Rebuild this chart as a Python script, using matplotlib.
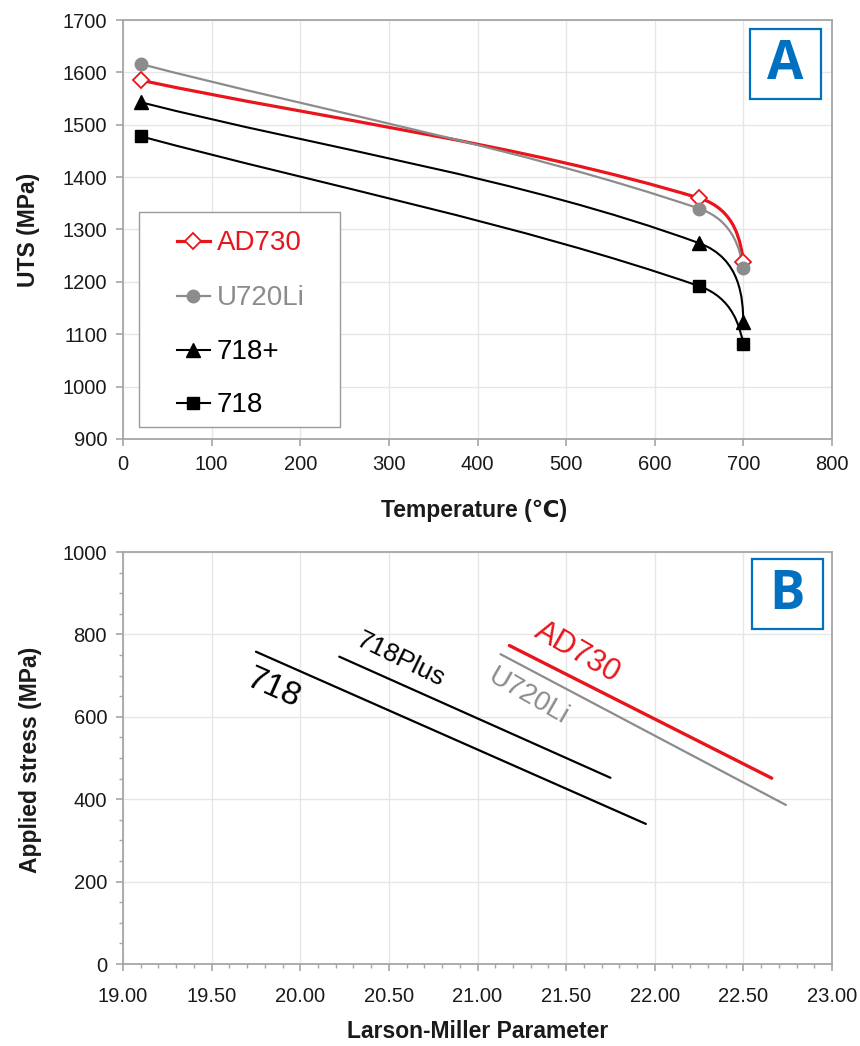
import matplotlib
matplotlib.use('Agg')
import matplotlib.pyplot as plt
import numpy as np
from matplotlib.path import Path
from matplotlib.patches import PathPatch, Rectangle
from matplotlib.lines import Line2D
from matplotlib.ticker import MultipleLocator, FormatStrFormatter

plt.rcParams['font.family'] = ['Liberation Sans', 'DejaVu Sans']

# ---------------- Panel A data ----------------
temps = [20, 650, 700]
uts_ad730 = [1585, 1360, 1238]
uts_u720li = [1616, 1340, 1227]
uts_718plus = [1543, 1274, 1124]
uts_718 = [1478, 1192, 1081]
series_names_a = ['AD730', 'U720Li', '718+', '718']

# ---------------- Panel B data ----------------
lmp_ad730 = [21.18, 22.66]
stress_ad730 = [773, 451]
lmp_u720li = [21.13, 22.74]
stress_u720li = [752, 386]
lmp_718plus = [20.22, 21.75]
stress_718plus = [746, 452]
lmp_718 = [19.75, 21.95]
stress_718 = [758, 340]

RED = '#e8161c'
GRAY = '#8c8c8c'
BLACK = '#000000'
BLUE = '#0070C0'
SPINE = '#a6a6a6'
GRID = '#e6e6e6'
TXT = '#1a1a1a'

fig = plt.figure(figsize=(8.6, 10.46), dpi=100)
W, H = 860, 1046


def add_axes_px(left, top, right, bottom):
    return fig.add_axes([left / W, 1 - bottom / H, (right - left) / W, (bottom - top) / H])


def style_axes(ax, xpad, ypad):
    for s in ax.spines.values():
        s.set_color(SPINE)
        s.set_linewidth(1.3)
    ax.grid(True, which='major', color=GRID, linewidth=1.0)
    ax.set_axisbelow(True)
    ax.tick_params(which='major', direction='out', length=5, width=1.2, color=SPINE,
                   labelsize=14.5, labelcolor=TXT)
    ax.tick_params(which='minor', direction='out', length=3, width=1.0, color=SPINE)
    ax.tick_params(axis='x', which='major', pad=xpad)
    ax.tick_params(axis='y', which='major', pad=ypad)


def smooth_line(ax, xs, ys, **kw):
    pts = ax.transData.transform(np.column_stack([xs, ys]))
    P0, P1, P2 = pts
    d1 = P2 - P0
    d1 = d1 / np.linalg.norm(d1)
    L01 = np.linalg.norm(P1 - P0)
    L12 = np.linalg.norm(P2 - P1)
    c1 = P0 + (P1 - P0) / 3.0
    c2 = P1 - d1 * L01 / 3.0
    c3 = P1 + d1 * L12 * 0.5
    c4 = P2 + (c3 - P2) * 0.35
    verts = ax.transData.inverted().transform(np.array([P0, c1, c2, P1, c3, c4, P2]))
    codes = [Path.MOVETO] + [Path.CURVE4] * 6
    ax.add_patch(PathPatch(Path(verts, codes), fill=False, capstyle='round',
                           joinstyle='round', **kw))


# ================= Panel A =================
axA = add_axes_px(123, 20, 832, 439)
axA.set_xlim(0, 800)
axA.set_ylim(900, 1700)
axA.xaxis.set_major_locator(MultipleLocator(100))
axA.yaxis.set_major_locator(MultipleLocator(100))
style_axes(axA, xpad=6.5, ypad=6.5)

styles_a = [
    (uts_ad730, RED, 2.3, 'D', 'white', RED, 8, 1.3),
    (uts_u720li, GRAY, 1.6, 'o', GRAY, GRAY, 9, 1.0),
    (uts_718plus, BLACK, 1.5, '^', BLACK, BLACK, 9.5, 1.0),
    (uts_718, BLACK, 1.5, 's', BLACK, BLACK, 9, 1.0),
]
for vals, col, lw, mk, mfc, mec, ms, mew in styles_a:
    smooth_line(axA, temps, vals, edgecolor=col, linewidth=lw, zorder=3)
for vals, col, lw, mk, mfc, mec, ms, mew in styles_a:
    axA.plot(temps, vals, linestyle='none', marker=mk, markerfacecolor=mfc,
             markeredgecolor=mec, markersize=ms, markeredgewidth=mew, zorder=4)

axA.set_xlabel('Temperature (℃)', fontsize=16.5, fontweight='bold', color=TXT)
axA.set_ylabel('UTS (MPa)', fontsize=16.5, fontweight='bold', color=TXT)
axA.xaxis.set_label_coords(0.495, -0.143)
axA.yaxis.set_label_coords(-0.117, 0.5)

# manual legend
axA.add_patch(Rectangle((0.0226, 0.0286), 0.2835, 0.5132, transform=axA.transAxes,
                        facecolor='white', edgecolor='#9a9a9a', linewidth=1.0, zorder=5))
rows_y = [0.4726, 0.3413, 0.2124, 0.0859]
text_cols = [RED, GRAY, BLACK, BLACK]
for (vals, col, lw, mk, mfc, mec, ms, mew), name, ry, tc in zip(styles_a, series_names_a,
                                                                rows_y, text_cols):
    axA.add_line(Line2D([0.0762, 0.0994, 0.1227], [ry, ry, ry], transform=axA.transAxes,
                        color=col, linewidth=lw, marker=mk, markevery=[1],
                        markerfacecolor=mfc, markeredgecolor=mec, markersize=ms,
                        markeredgewidth=mew, zorder=6))
    axA.text(0.1326, ry - 0.004, name, transform=axA.transAxes, fontsize=20, color=tc,
             ha='left', va='center', zorder=6)

# panel letter A
axA.add_patch(Rectangle((0.885, 0.811), 0.099, 0.167, transform=axA.transAxes,
                        facecolor='white', edgecolor=BLUE, linewidth=1.6, zorder=5))
axA.text(0.9345, 0.893, 'A', transform=axA.transAxes, fontsize=38, fontweight='bold',
         color=BLUE, ha='center', va='center', family=['Open Sans', 'DejaVu Sans'], zorder=6)

# ================= Panel B =================
axB = add_axes_px(123, 552, 832, 964)
axB.set_xlim(19.0, 23.0)
axB.set_ylim(0, 1000)
axB.xaxis.set_major_locator(MultipleLocator(0.5))
axB.xaxis.set_minor_locator(MultipleLocator(0.1))
axB.xaxis.set_major_formatter(FormatStrFormatter('%.2f'))
axB.yaxis.set_major_locator(MultipleLocator(200))
axB.yaxis.set_minor_locator(MultipleLocator(50))
style_axes(axB, xpad=11.5, ypad=6.5)

axB.plot(lmp_718, stress_718, color=BLACK, linewidth=1.6, solid_capstyle='round', zorder=3)
axB.plot(lmp_718plus, stress_718plus, color=BLACK, linewidth=1.6, solid_capstyle='round', zorder=3)
axB.plot(lmp_u720li, stress_u720li, color=GRAY, linewidth=1.6, solid_capstyle='round', zorder=3)
axB.plot(lmp_ad730, stress_ad730, color=RED, linewidth=2.4, solid_capstyle='round', zorder=3)

label_font = ['Liberation Sans Narrow', 'Liberation Sans', 'DejaVu Sans']
axB.text(19.849, 669, '718', fontsize=24, color=BLACK, rotation=-24, rotation_mode='anchor',
         ha='center', va='center', family=label_font)
axB.text(20.566, 738, '718Plus', fontsize=19, color=BLACK, rotation=-26, rotation_mode='anchor',
         ha='center', va='center', family=label_font)
axB.text(21.564, 756, 'AD730', fontsize=22, color=RED, rotation=-30, rotation_mode='anchor',
         ha='center', va='center', family=label_font)
axB.text(21.288, 649, 'U720Li', fontsize=20, color=GRAY, rotation=-30, rotation_mode='anchor',
         ha='center', va='center', family=label_font)

axB.set_xlabel('Larson-Miller Parameter', fontsize=16.5, fontweight='bold', color=TXT)
axB.set_ylabel('Applied stress (MPa)', fontsize=16.5, fontweight='bold', color=TXT)
axB.xaxis.set_label_coords(0.5, -0.136)
axB.yaxis.set_label_coords(-0.114, 0.495)

axB.add_patch(Rectangle((0.8866, 0.813), 0.1004, 0.170, transform=axB.transAxes,
                        facecolor='white', edgecolor=BLUE, linewidth=1.6, zorder=5))
axB.text(0.9368, 0.896, 'B', transform=axB.transAxes, fontsize=38, fontweight='bold',
         color=BLUE, ha='center', va='center', family=['Open Sans', 'DejaVu Sans'], zorder=6)

fig.savefig('out.png', dpi=100, facecolor='white')
